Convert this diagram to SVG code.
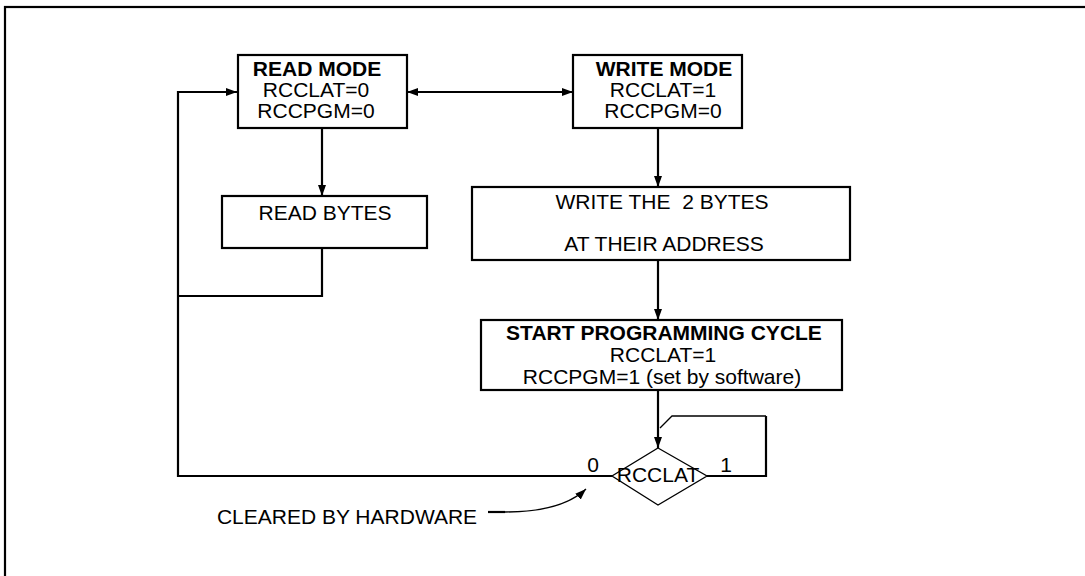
<svg xmlns="http://www.w3.org/2000/svg" width="1085" height="576" viewBox="0 0 1085 576">
<style>
.box{fill:#fff;stroke:#000;stroke-width:2.2}
.t{font-family:"Liberation Sans",Arial,sans-serif;font-size:21px;fill:#000;text-anchor:middle}
.b{font-weight:bold}
.c{fill:none;stroke:#000;stroke-width:2.2}
.thin{fill:none;stroke:#000;stroke-width:1.3}
</style>
<defs>
<marker id="ah" markerUnits="userSpaceOnUse" markerWidth="11" markerHeight="8" refX="11" refY="4" orient="auto-start-reverse">
<path d="M0,0 L11,4 L0,8 z" fill="#000"/>
</marker>
</defs>
<rect x="5" y="7" width="1100" height="600" fill="none" stroke="#000" stroke-width="2.2"/>
<g id="connectors">
<path class="c" d="M407,92 L573,92" marker-start="url(#ah)" marker-end="url(#ah)"/>
<path class="c" d="M322,128 L322,196" marker-end="url(#ah)"/>
<path class="c" d="M322,248 L322,296 L178,296"/>
<path class="c" d="M612,476 L178,476 L178,92 L237,92" marker-end="url(#ah)"/>
<path class="c" d="M658,128 L658,187" marker-end="url(#ah)"/>
<path class="c" d="M658,260 L658,320" marker-end="url(#ah)"/>
<path class="c" d="M658,390 L658,448" marker-end="url(#ah)"/>
<path class="c" d="M707,476 L766,476 L766,416"/>
<path class="thin" d="M766,416 L672,416 L660,428"/>
<path class="c" d="M488,512 L505,512"/>
<path class="thin" d="M505,512 C540,512 568,506 586,489" marker-end="url(#ah)"/>
</g>
<g id="read-mode">
<rect class="box" x="238" y="55" width="169" height="73"/>
<text class="t b" x="317" y="75.5">READ MODE</text>
<text class="t" x="316" y="97">RCCLAT=0</text>
<text class="t" x="316" y="118">RCCPGM=0</text>
</g>
<g id="write-mode">
<rect class="box" x="573" y="55" width="169" height="73"/>
<text class="t b" x="664" y="75.5">WRITE MODE</text>
<text class="t" x="663" y="97">RCCLAT=1</text>
<text class="t" x="663" y="118">RCCPGM=0</text>
</g>
<g id="read-bytes">
<rect class="box" x="222" y="196" width="205" height="52"/>
<text class="t" x="325" y="220">READ BYTES</text>
</g>
<g id="write-bytes">
<rect class="box" x="472" y="187" width="378" height="73"/>
<text class="t" x="662" y="208.5" xml:space="preserve">WRITE THE  2 BYTES</text>
<text class="t" x="664" y="251">AT THEIR ADDRESS</text>
</g>
<g id="start-programming">
<rect class="box" x="481" y="320" width="361" height="70"/>
<text class="t b" x="664" y="339.5">START PROGRAMMING CYCLE</text>
<text class="t" x="663" y="361.5">RCCLAT=1</text>
<text class="t" x="662" y="384">RCCPGM=1 (set by software)</text>
</g>
<g id="rcclat-decision">
<path d="M658,448 L707,476 L658,505 L612,476 z" fill="none" stroke="#000" stroke-width="1.3"/>
<text class="t" x="658" y="482">RCCLAT</text>
<text class="t" x="593" y="472">0</text>
<text class="t" x="726" y="472">1</text>
</g>
<g id="cleared-label">
<text class="t" x="347" y="524">CLEARED BY HARDWARE</text>
</g>
</svg>
